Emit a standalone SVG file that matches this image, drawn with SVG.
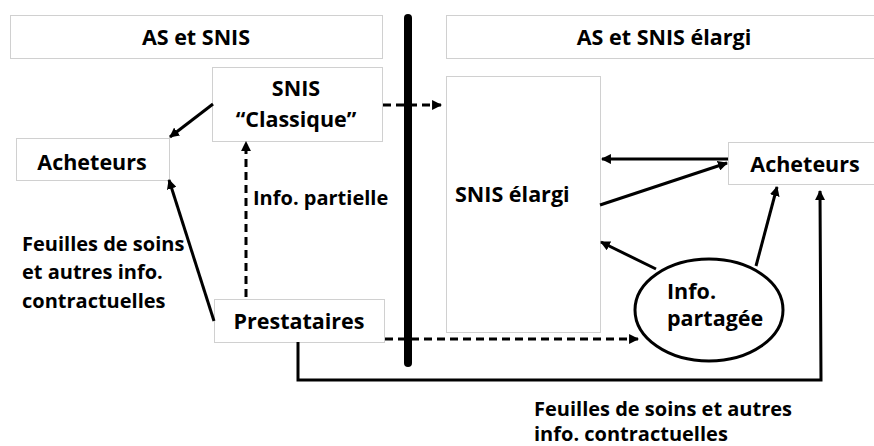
<svg xmlns="http://www.w3.org/2000/svg" width="874" height="446" viewBox="0 0 874 446">
<style>
.box{fill:#fff;stroke:#d0d0d0;stroke-width:1}
.t{font-family:"Open Sans","Liberation Sans",sans-serif;font-weight:bold;font-size:21.5px;fill:#000}
.s{font-size:20px}
.c{text-anchor:middle}
.ln{fill:none;stroke:#000;stroke-width:3}
.d{stroke-dasharray:8 5}
</style>
<defs>
<marker id="ah" viewBox="0 0 10 10" refX="9" refY="5" markerWidth="3.3" markerHeight="3.3" orient="auto" markerUnits="strokeWidth">
<path d="M0,0 L10,5 L0,10 z" fill="#000"/>
</marker>
</defs>
<rect width="874" height="446" fill="#fff"/>
<g id="hdr-left"><rect class="box" x="10.5" y="15.5" width="372" height="43"/><text class="t c" x="196" y="45">AS et SNIS</text></g>
<g id="hdr-right"><rect class="box" x="446.5" y="15.5" width="440" height="43"/><text class="t c" x="664" y="45">AS et SNIS élargi</text></g>
<g id="snis-classique"><rect class="box" x="212.5" y="67.5" width="170" height="74"/><text class="t c" x="296" y="96">SNIS</text><text class="t c" x="296" y="127">“Classique”</text></g>
<g id="acheteurs-left"><rect class="box" x="16.5" y="138.5" width="153" height="42"/><text class="t c" x="92" y="170">Acheteurs</text></g>
<g id="prestataires"><rect class="box" x="214.5" y="299.5" width="170" height="43"/><text class="t c" x="299" y="329">Prestataires</text></g>
<g id="snis-elargi"><rect class="box" x="446.5" y="76.5" width="154" height="256"/><text class="t" x="455" y="202">SNIS élargi</text></g>
<g id="acheteurs-right"><rect class="box" x="728.5" y="142.5" width="160" height="42"/><text class="t c" x="805" y="172">Acheteurs</text></g>
<g id="info-partagee"><ellipse cx="709" cy="310" rx="74" ry="51" fill="#fff" stroke="#000" stroke-width="3"/><text class="t" x="667" y="299">Info.</text><text class="t" x="667" y="326">partagée</text></g>
<g id="labels">
<text class="t s" x="253" y="205">Info. partielle</text>
<text class="t s" x="22" y="251">Feuilles de soins</text>
<text class="t s" x="22" y="279">et autres info.</text>
<text class="t s" x="22" y="308">contractuelles</text>
<text class="t s" x="534" y="416">Feuilles de soins et autres</text>
<text class="t s" x="534" y="441">info. contractuelles</text>
</g>
<g id="connectors">
<line x1="408" y1="18" x2="408" y2="363" stroke="#000" stroke-width="8" stroke-linecap="round"/>
<line class="ln d" x1="383" y1="105" x2="441" y2="105" marker-end="url(#ah)"/>
<line class="ln d" x1="246" y1="297" x2="246" y2="142" marker-end="url(#ah)"/>
<line class="ln" x1="213" y1="104" x2="170" y2="137" marker-end="url(#ah)"/>
<line class="ln" x1="214" y1="321" x2="169" y2="180" marker-end="url(#ah)"/>
<line class="ln d" x1="385" y1="339" x2="638" y2="339" marker-end="url(#ah)"/>
<polyline class="ln" points="298,342 298,380 821,380 820,191" marker-end="url(#ah)"/>
<line class="ln" x1="728" y1="159" x2="602" y2="159" marker-end="url(#ah)"/>
<line class="ln" x1="600" y1="205" x2="727" y2="163" marker-end="url(#ah)"/>
<line class="ln" x1="756" y1="266" x2="777" y2="187" marker-end="url(#ah)"/>
<line class="ln" x1="656" y1="269" x2="601" y2="242" marker-end="url(#ah)"/>
</g>
</svg>
